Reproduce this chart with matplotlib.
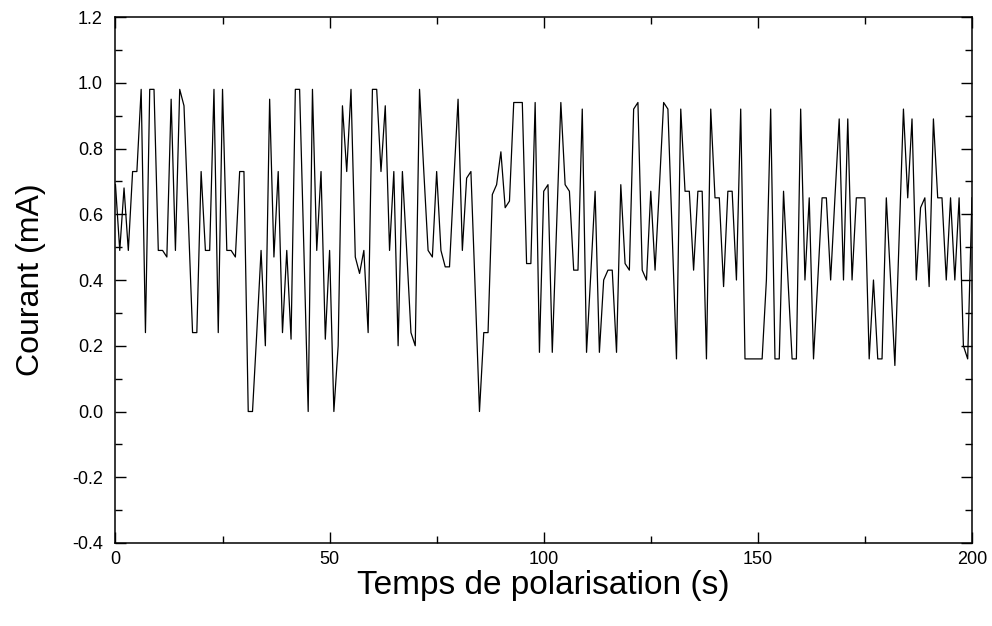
import matplotlib
matplotlib.use("Agg")
import matplotlib.pyplot as plt
from matplotlib.ticker import MultipleLocator

plt.rcParams["font.family"] = ["Liberation Sans", "DejaVu Sans"]

# Courant (mA), un point par seconde, t = 0 .. 200 s
temps = list(range(201))
courant = [
    0.69, 0.49, 0.68, 0.49, 0.73, 0.73, 0.98, 0.24, 0.98, 0.98,
    0.49, 0.49, 0.47, 0.95, 0.49, 0.98, 0.93, 0.59, 0.24, 0.24,
    0.73, 0.49, 0.49, 0.98, 0.24, 0.98, 0.49, 0.49, 0.47, 0.73,
    0.73, 0.00, 0.00, 0.24, 0.49, 0.20, 0.95, 0.47, 0.73, 0.24,
    0.49, 0.22, 0.98, 0.98, 0.49, 0.00, 0.98, 0.49, 0.73, 0.22,
    0.49, 0.00, 0.20, 0.93, 0.73, 0.98, 0.47, 0.42, 0.49, 0.24,
    0.98, 0.98, 0.73, 0.93, 0.49, 0.73, 0.20, 0.73, 0.49, 0.24,
    0.20, 0.98, 0.73, 0.49, 0.47, 0.73, 0.49, 0.44, 0.44, 0.70,
    0.95, 0.49, 0.71, 0.73, 0.37, 0.00, 0.24, 0.24, 0.66, 0.69,
    0.79, 0.62, 0.64, 0.94, 0.94, 0.94, 0.45, 0.45, 0.94, 0.18,
    0.67, 0.69, 0.18, 0.56, 0.94, 0.69, 0.67, 0.43, 0.43, 0.92,
    0.18, 0.42, 0.67, 0.18, 0.40, 0.43, 0.43, 0.18, 0.69, 0.45,
    0.43, 0.92, 0.94, 0.43, 0.40, 0.67, 0.43, 0.68, 0.94, 0.92,
    0.54, 0.16, 0.92, 0.67, 0.67, 0.43, 0.67, 0.67, 0.16, 0.92,
    0.65, 0.65, 0.38, 0.67, 0.67, 0.40, 0.92, 0.16, 0.16, 0.16,
    0.16, 0.16, 0.40, 0.92, 0.16, 0.16, 0.67, 0.41, 0.16, 0.16,
    0.92, 0.40, 0.65, 0.16, 0.40, 0.65, 0.65, 0.40, 0.65, 0.89,
    0.40, 0.89, 0.40, 0.65, 0.65, 0.65, 0.16, 0.40, 0.16, 0.16,
    0.65, 0.40, 0.14, 0.53, 0.92, 0.65, 0.89, 0.40, 0.62, 0.65,
    0.38, 0.89, 0.65, 0.65, 0.40, 0.65, 0.40, 0.65, 0.20, 0.16,
    0.65,
]

fig = plt.figure(figsize=(9.92, 6.26), dpi=100)
ax = fig.add_axes([0.1164, 0.1326, 0.8634, 0.8402])

ax.plot(temps, courant, color="black", linewidth=0.9)

ax.set_xlim(0, 200)
ax.set_ylim(-0.4, 1.2)
ax.xaxis.set_major_locator(MultipleLocator(50))
ax.xaxis.set_minor_locator(MultipleLocator(25))
ax.yaxis.set_major_locator(MultipleLocator(0.2))
ax.yaxis.set_minor_locator(MultipleLocator(0.1))
ax.yaxis.set_major_formatter(plt.FuncFormatter(lambda v, p: f"{v:.1f}"))

ax.tick_params(which="both", direction="in", top=True, right=True,
               labelsize=13, width=1.0)
ax.tick_params(axis="x", pad=6)
ax.tick_params(axis="y", pad=9)
ax.tick_params(which="major", length=8)
ax.tick_params(which="minor", length=4.8)
for s in ax.spines.values():
    s.set_linewidth(1.1)

ax.set_xlabel("Temps de polarisation (s)", fontsize=24, labelpad=1)
ax.set_ylabel("Courant (mA)", fontsize=23, labelpad=19)

fig.savefig("out.png", dpi=100)
